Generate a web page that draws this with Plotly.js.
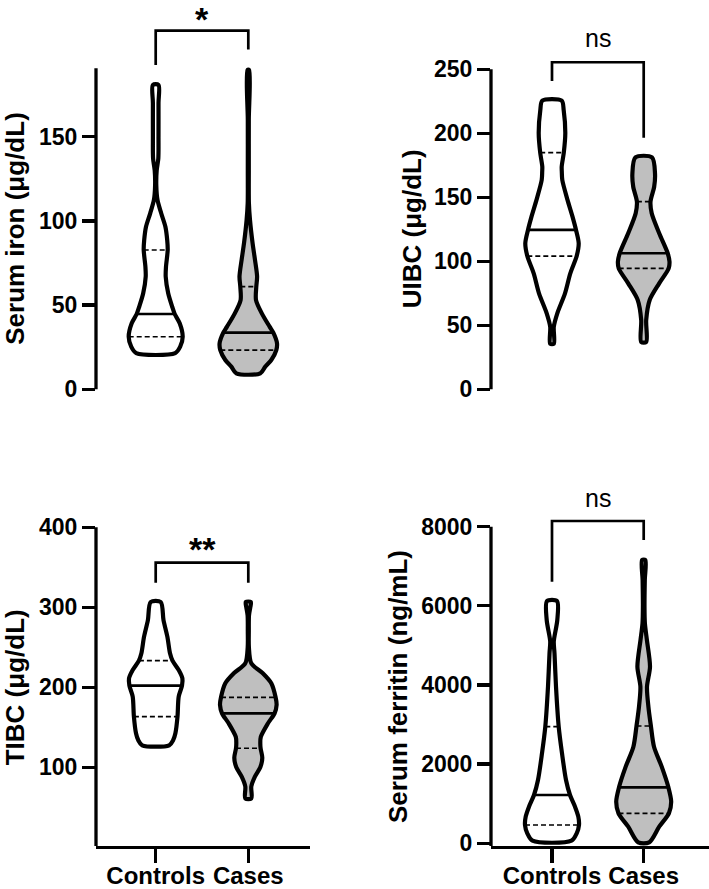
<!DOCTYPE html>
<html><head><meta charset="utf-8">
<script src="https://cdn.plot.ly/plotly-3.0.1.min.js"></script>
<style>html,body{margin:0;padding:0;background:#fff}#chart{width:709px;height:889px}</style>
</head><body><div id="chart"></div>
<script>
// ---------------- data ----------------
const groups = ['Controls', 'Cases'];

// violin outlines: value levels and half-width (density, px-scale)
const ironCtrlLevels = [21.5, 25.3, 31.2, 39.2, 44.7, 49, 57, 66.9, 72.8, 82.7, 88.6, 96.5, 104.5, 112.4, 121, 130, 137, 150, 170, 180.7];
const ironCtrlWidths = [19.5, 24.5, 27, 24, 19, 16.5, 12.5, 10, 10.3, 12, 11.5, 9.7, 5.5, 1.8, 0.6, 1, 2.6, 2.8, 2.8, 2.8];
const ironCaseLevels = [9.5, 13.5, 17.4, 23.3, 27.3, 33.6, 37.2, 45.1, 53, 60.9, 66.9, 76.8, 86.7, 100.5, 110.6, 130, 160, 189.6];
const ironCaseWidths = [12, 17, 23, 28, 28.7, 25, 21.3, 13.5, 7.7, 8, 8.8, 6.7, 4.3, 1.7, 0.6, 0.5, 0.5, 0.8];
const ironCtrlStats = [31.2, 44.7, 82.7];   // Q1, median, Q3
const ironCaseStats = [23.3, 33.6, 60.9];

const uibcCtrlLevels = [35.6, 48.9, 59.4, 75, 90.6, 104.1, 114, 124.5, 134.9, 148, 163.5, 170, 174, 184.9, 200, 218, 225.5];
const uibcCtrlWidths = [1.8, 1.8, 5.3, 13, 18.3, 24.7, 26.7, 24, 20.5, 15.5, 10.3, 9.8, 9.7, 11.8, 13.3, 11.7, 9.7];
const uibcCaseLevels = [37, 54.1, 69.8, 82.8, 94.5, 99.7, 106.3, 121.9, 137.5, 146.6, 158.3, 168.7, 181.2];
const uibcCaseWidths = [2.5, 2.5, 6, 15.5, 25, 25.8, 24, 15.5, 8, 6.8, 10.5, 11.3, 8.3];
const uibcCtrlStats = [104.1, 124.5, 184.9];
const uibcCaseStats = [94.5, 106.3, 146.6];

const tibcCtrlLevels = [127.5, 134, 142.5, 163.3, 188.3, 202, 211.2, 221.6, 233.3, 242.5, 263, 284, 306.6];
const tibcCtrlWidths = [13.5, 17.5, 19.7, 21.8, 23, 26.3, 26.7, 23, 16.8, 14.3, 11.7, 7.8, 5];
const tibcCaseLevels = [61, 76, 88, 100, 112, 123.8, 130, 138, 155, 167.5, 177.9, 187.5, 205, 217.5, 230, 250, 270, 290, 300, 306.6];
const tibcCaseWidths = [3, 3, 6.5, 12, 14, 12.3, 12, 12.5, 19.7, 26.3, 28.3, 27.3, 23, 14.5, 3, 0.6, 0.5, 0.7, 2, 2.5];
const tibcCtrlStats = [163.3, 202, 233.3];
const tibcCaseStats = [123.8, 167.5, 187.5];

const ferrCtrlLevels = [66, 253, 462, 672, 925, 1220, 1600, 2274, 2946, 3957, 4800, 5100, 5642, 6120];
const ferrCtrlWidths = [19.5, 24.7, 27, 26.3, 23, 18, 14, 10, 6.7, 4, 2.5, 1.8, 5.3, 5];
const ferrCaseLevels = [25, 420, 758, 1051, 1415, 1936, 2441, 2964, 3451, 3957, 4462, 5137, 5558, 5979, 6653, 7158];
const ferrCaseWidths = [5.5, 15.5, 25.2, 27.5, 24.7, 18, 10.3, 7.2, 4.7, 3.3, 6.3, 3.2, 1.2, 0.8, 1.1, 1.6];
const ferrCtrlStats = [462, 1220, 2946];
const ferrCaseStats = [758, 1415, 2964];

// y tick values
const ironTicks = [0, 50, 100, 150];
const uibcTicks = [0, 50, 100, 150, 200, 250];
const tibcTicks = [0, 100, 200, 300, 400];
const ferrTicks = [0, 2000, 4000, 6000, 8000];

// significance labels
const sigLabels = ['*', 'ns', '**', 'ns'];
// bracket: [top, left-leg end, right-leg end]
const ironBracket = [212.9, 192.5, 201.8];
const uibcBracket = [255.5, 240.9, 196.6];
const tibcBracket = [355.8, 330.8, 330.8];
const ferrBracket = [8143, 6610, 7663];

// ---------------- layout config ----------------
const W = 709, H = 889;
const FONT = 'Liberation Sans, Arial, Helvetica, sans-serif';
const GRAY = '#bfbfbf';

const panels = [
  {xa:'x', ya:'y', title:'Serum iron (μg/dL)', ticks:ironTicks, axisTop:190.6, axisBottom:0,
   ctrl:[ironCtrlLevels, ironCtrlWidths, ironCtrlStats], cases:[ironCaseLevels, ironCaseWidths, ironCaseStats],
   bracket:ironBracket, sig:sigLabels[0],
   px:{left:96, right:310, c1:155.7, c2:248.3, zero:389.3, ppu:1.6844, bottom:395, top:0}, titleX:15, showX:false, sigPx:19, sigSize:34, sigBold:true},
  {xa:'x2', ya:'y2', title:'UIBC (μg/dL)', ticks:uibcTicks, axisTop:250, axisBottom:0,
   ctrl:[uibcCtrlLevels, uibcCtrlWidths, uibcCtrlStats], cases:[uibcCaseLevels, uibcCaseWidths, uibcCaseStats],
   bracket:uibcBracket, sig:sigLabels[1],
   px:{left:491, right:709, c1:552, c2:643.7, zero:389.3, ppu:1.28, bottom:395, top:0}, titleX:412, showX:false, sigPx:38, sigSize:25, sigBold:false},
  {xa:'x3', ya:'y3', title:'TIBC (μg/dL)', ticks:tibcTicks, axisTop:400, axisBottom:0,
   ctrl:[tibcCtrlLevels, tibcCtrlWidths, tibcCtrlStats], cases:[tibcCaseLevels, tibcCaseWidths, tibcCaseStats],
   bracket:tibcBracket, sig:sigLabels[2],
   px:{left:96, right:310, c1:155.7, c2:248.3, zero:847.3, ppu:0.8, bottom:846, top:460}, titleX:15, showX:true, sigPx:549, sigSize:34, sigBold:true},
  {xa:'x4', ya:'y4', title:'Serum ferritin (ng/mL)', ticks:ferrTicks, axisTop:8000, axisBottom:-101,
   ctrl:[ferrCtrlLevels, ferrCtrlWidths, ferrCtrlStats], cases:[ferrCaseLevels, ferrCaseWidths, ferrCaseStats],
   bracket:ferrBracket, sig:sigLabels[3],
   px:{left:491, right:709, c1:552, c2:643.7, zero:843.3, ppu:0.03958, bottom:846, top:460}, titleX:398, showX:true, sigPx:498, sigSize:25, sigBold:false}
];

function interp(levels, widths, v) {
  for (let i = 0; i < levels.length - 1; i++) {
    if (v >= levels[i] && v <= levels[i + 1]) {
      const t = (v - levels[i]) / (levels[i + 1] - levels[i]);
      return widths[i] + t * (widths[i + 1] - widths[i]);
    }
  }
  return widths[0];
}

const traces = [], shapes = [], annotations = [];
const layout = {
  width: W, height: H, margin: {l: 0, r: 0, t: 0, b: 0},
  paper_bgcolor: '#fff', plot_bgcolor: 'rgba(0,0,0,0)', showlegend: false,
  font: {family: FONT, color: '#000'}
};

panels.forEach((p, k) => {
  const q = p.px;
  const xppu = q.c2 - q.c1;
  const xr = [1 - (q.c1 - q.left) / xppu, 1 + (q.right - q.c1) / xppu];
  const yr = [(q.zero - q.bottom) / q.ppu, (q.zero - q.top) / q.ppu];
  const xn = k === 0 ? 'xaxis' : 'xaxis' + (k + 1);
  const yn = k === 0 ? 'yaxis' : 'yaxis' + (k + 1);
  layout[xn] = {
    domain: [q.left / W, q.right / W], range: xr, anchor: p.ya, fixedrange: true,
    showgrid: false, zeroline: false, visible: p.showX,
    showline: p.showX, linecolor: '#000', linewidth: 3.3,
    ticks: 'outside', ticklen: 14, tickwidth: 3.3, tickcolor: '#000',
    tickvals: [1, 2], ticktext: groups, tickangle: 0, ticklabelstandoff: -8,
    tickfont: {family: FONT, size: 24, color: '#000', weight: 'bold'}
  };
  layout[yn] = {
    domain: [1 - q.bottom / H, 1 - q.top / H], range: yr, anchor: p.xa, fixedrange: true,
    showgrid: false, zeroline: false, showline: false,
    ticks: 'outside', ticklen: 13, tickwidth: 3.3, tickcolor: '#000',
    tickvals: p.ticks, ticktext: p.ticks.map(String),
    tickfont: {family: FONT, size: 23, color: '#000', weight: 'bold'}
  };
  // y axis line
  shapes.push({type: 'line', xref: p.xa + ' domain', yref: p.ya, x0: 0, x1: 0,
    y0: p.axisBottom, y1: p.axisTop, line: {color: '#000', width: 3.3}});

  // violins
  [[p.ctrl, 1, '#ffffff'], [p.cases, 2, GRAY]].forEach(([d, c, fill]) => {
    const [lv, wd, st] = d;
    const xs = [], ys = [];
    for (let i = 0; i < lv.length; i++) { xs.push(c + wd[i] / xppu); ys.push(lv[i]); }
    for (let i = lv.length - 1; i >= 0; i--) { xs.push(c - wd[i] / xppu); ys.push(lv[i]); }
    xs.push(xs[0]); ys.push(ys[0]);
    traces.push({type: 'scatter', mode: 'lines', x: xs, y: ys, xaxis: p.xa, yaxis: p.ya,
      fill: 'toself', fillcolor: fill, hoverinfo: 'skip',
      line: {color: '#000', width: 4.2, shape: 'spline', smoothing: 0.8}});
    st.forEach((v, j) => {
      const hw = interp(lv, wd, v) / xppu;
      traces.push({type: 'scatter', mode: 'lines', x: [c - hw, c + hw], y: [v, v],
        xaxis: p.xa, yaxis: p.ya, hoverinfo: 'skip',
        line: j === 1 ? {color: '#000', width: 2.7} : {color: '#000', width: 1.7, dash: '5px,3px'}});
    });
  });

  // significance bracket
  const b = p.bracket;
  shapes.push({type: 'path', xref: p.xa, yref: p.ya,
    path: `M1,${b[1]} L1,${b[0]} L2,${b[0]} L2,${b[2]}`,
    line: {color: '#000', width: 2.7}});
  annotations.push({xref: p.xa, yref: p.ya, x: 1.5, y: (q.zero - p.sigPx) / q.ppu,
    text: p.sig, showarrow: false, xanchor: 'center', yanchor: 'middle',
    font: {family: FONT, size: p.sigSize, color: '#000', weight: p.sigBold ? 'bold' : 'normal'}});

  // y axis title
  annotations.push({xref: 'paper', yref: p.ya, x: p.titleX / W, y: (p.axisTop + p.axisBottom) / 2,
    text: p.title, textangle: -90, showarrow: false, xanchor: 'center', yanchor: 'middle',
    font: {family: FONT, size: 26, color: '#000', weight: 'bold'}});
});

layout.shapes = shapes;
layout.annotations = annotations;

Plotly.newPlot('chart', traces, layout, {staticPlot: true, displayModeBar: false});
</script>
</body></html>
